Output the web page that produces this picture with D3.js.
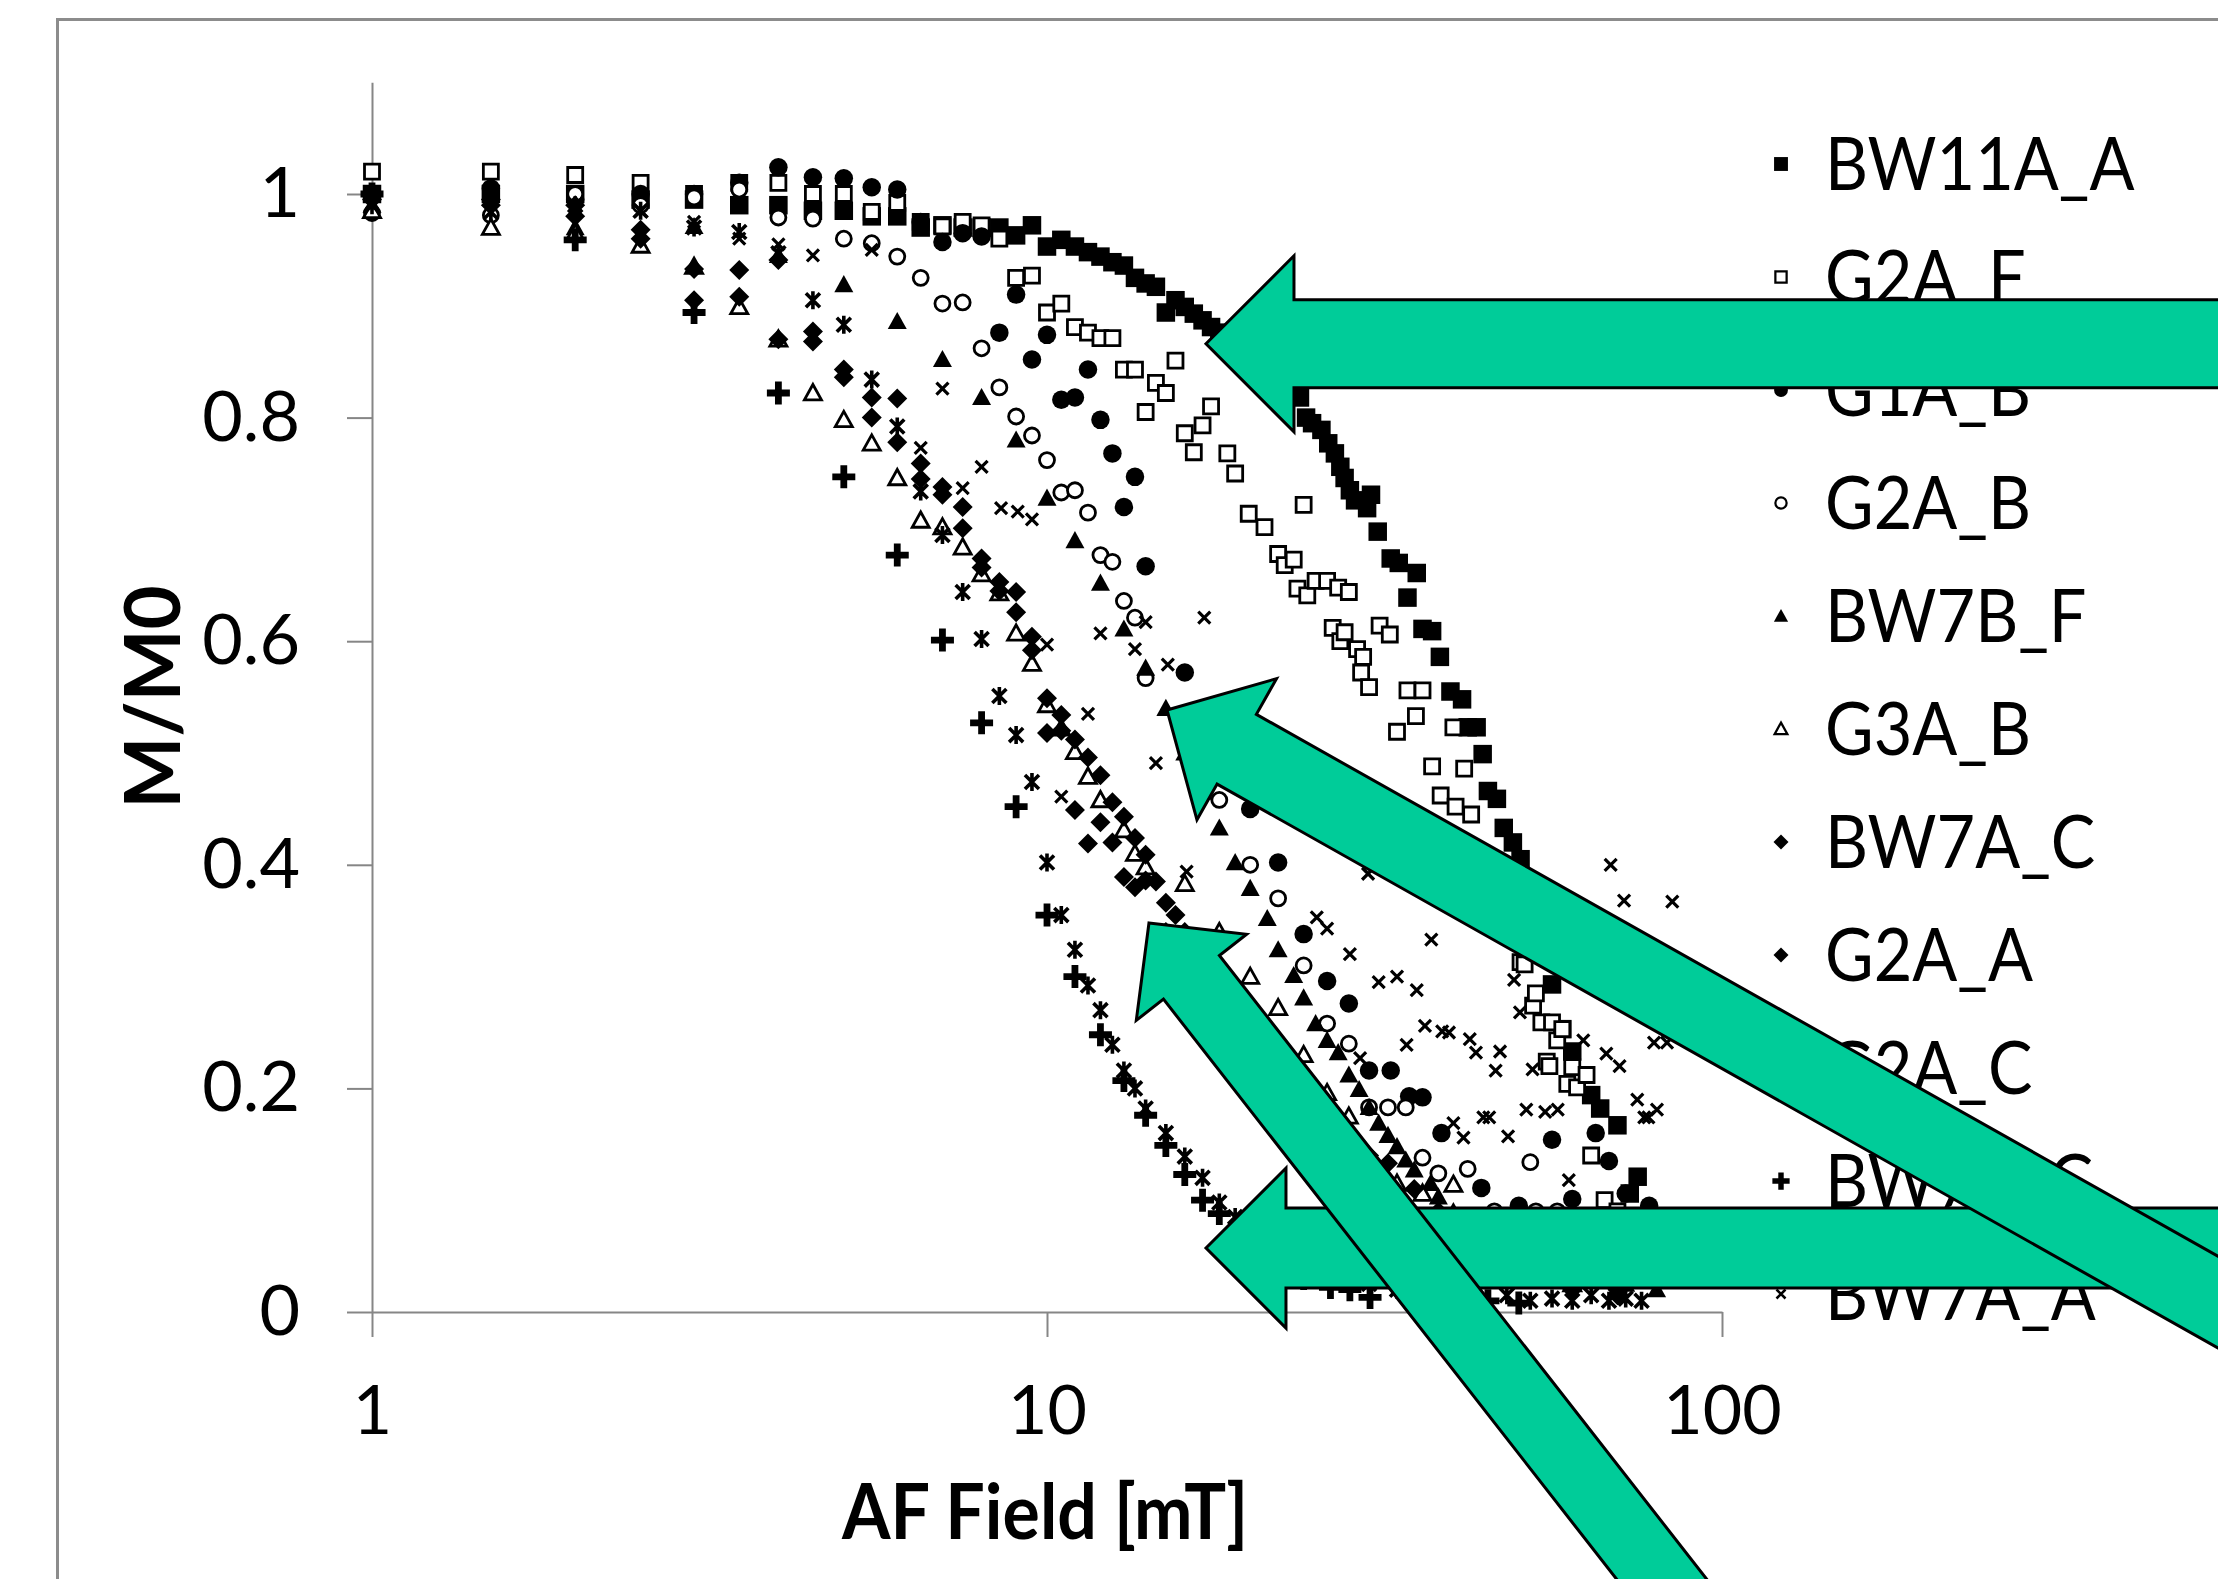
<!DOCTYPE html>
<html>
<head>
<meta charset="utf-8">
<script src="https://cdn.jsdelivr.net/npm/d3@7"></script>
<style>
  html, body { margin: 0; padding: 0; background: #ffffff; }
  svg { display: block; }
</style>
</head>
<body>
<svg id="chart" width="2218" height="1579"></svg>
<script>
// ---------------- DATA (AF field [mT], M/M0) ----------------
const bw11aA = [[1,1.0],[1.5,1.0],[2,1.0],[2.5,0.995],[3,0.995],[3.5,0.99],[4,0.99],[4.5,0.985],[5,0.985],[5.5,0.98],[6,0.98],[6.5,0.97],[7,0.972],[7.5,0.97],[8,0.97],[8.5,0.97],[9,0.963],[9.5,0.972],[10,0.953],[10.5,0.959],[11,0.953],[11.5,0.948],[12,0.944],[12.5,0.939],[13,0.936],[13.5,0.925],[14,0.92],[14.5,0.917],[15,0.894],[15.5,0.905],[16,0.899],[16.5,0.893],[17,0.887],[17.5,0.881],[18,0.876],[19,0.868],[20,0.86],[21,0.85],[22,0.838],[23,0.826],[23.7,0.818],[24.2,0.80],[24.7,0.795],[25.5,0.789],[26.1,0.777],[26.7,0.768],[27.2,0.756],[27.6,0.746],[28.1,0.735],[28.6,0.726],[29.8,0.719],[30.2,0.731],[30.9,0.698],[32.3,0.674],[33.2,0.67],[34.2,0.639],[35.3,0.661],[36,0.611],[37.2,0.609],[38.2,0.586],[39.6,0.555],[41.2,0.548],[42,0.523],[43.3,0.523],[44.2,0.499],[45,0.466],[46.4,0.459],[47.5,0.433],[49,0.42],[50.3,0.405],[52,0.37],[54,0.33],[56,0.293],[58,0.253],[60,0.233],[64,0.194],[66,0.182],[70,0.167],[73,0.106],[75,0.121]];
const g2aF = [[1,1.02],[1.5,1.02],[2,1.017],[2.5,1.01],[3,1.0],[3.5,1.01],[4,1.01],[4.5,1.0],[5,1.0],[5.5,0.984],[6,0.992],[6.5,0.975],[7,0.971],[7.5,0.975],[8,0.972],[8.5,0.96],[9,0.925],[9.5,0.927],[10,0.894],[10.5,0.902],[11,0.881],[11.5,0.876],[12,0.871],[12.5,0.871],[13,0.843],[13.5,0.843],[14,0.805],[14.5,0.831],[15,0.822],[15.5,0.851],[16,0.786],[16.5,0.769],[17,0.793],[17.5,0.81],[18.5,0.768],[19,0.75],[19.9,0.714],[21,0.702],[22,0.678],[22.5,0.668],[23.2,0.673],[23.5,0.647],[24,0.722],[24.3,0.641],[25,0.654],[26,0.654],[26.5,0.612],[27,0.648],[27.2,0.6],[27.6,0.608],[28,0.644],[28.8,0.593],[29.2,0.572],[29.4,0.586],[30,0.559],[31.1,0.614],[32.2,0.606],[33,0.519],[34.2,0.556],[35.2,0.533],[36,0.556],[37.2,0.488],[38.3,0.462],[40,0.523],[40.3,0.452],[41.5,0.486],[42.5,0.445],[44,0.41],[46,0.38],[48.5,0.351],[50.3,0.313],[51,0.311],[52.5,0.274],[53,0.285],[54,0.259],[55,0.224],[55.5,0.22],[56,0.259],[57,0.243],[58,0.253],[59,0.204],[60,0.219],[61,0.201],[63,0.212],[64,0.14],[67,0.1],[70,0.09]];
const g1aB = [[1,1.0],[1.5,1.005],[2,0.995],[2.5,1.0],[3,1.0],[3.5,1.01],[4,1.024],[4.5,1.015],[5,1.014],[5.5,1.006],[6,1.004],[6.5,0.975],[7,0.957],[7.5,0.965],[8,0.962],[8.5,0.876],[9,0.91],[9.5,0.852],[10,0.874],[10.5,0.816],[11,0.818],[11.5,0.843],[12,0.798],[12.5,0.768],[13,0.72],[13.5,0.747],[14,0.667],[16,0.572],[18,0.5],[20,0.45],[22,0.402],[24,0.338],[26,0.296],[28,0.276],[30,0.216],[32.3,0.216],[34.4,0.193],[36,0.192],[38.4,0.16],[44,0.111],[50,0.095],[56,0.154],[60,0.101],[65,0.16],[68,0.135],[72,0.106],[78,0.095]];
const g2aB = [[1,0.983],[1.5,0.981],[2,1.0],[2.5,0.99],[3,0.997],[3.5,1.004],[4,0.979],[4.5,0.978],[5,0.96],[5.5,0.956],[6,0.944],[6.5,0.925],[7,0.902],[7.5,0.903],[8,0.862],[8.5,0.827],[9,0.801],[9.5,0.784],[10,0.762],[10.5,0.733],[11,0.735],[11.5,0.715],[12,0.677],[12.5,0.671],[13,0.636],[13.5,0.621],[14,0.567],[16,0.52],[18,0.458],[20,0.4],[22,0.37],[24,0.31],[26,0.258],[28,0.24],[30,0.183],[32,0.183],[34,0.183],[36,0.138],[38,0.124],[42,0.128],[46,0.09],[52,0.134],[53,0.09],[57,0.09],[62,0.085],[70,0.08]];
const bw7bF = [[1,0.99],[2,0.97],[3,0.971],[4,0.945],[5,0.919],[6,0.886],[7,0.852],[8,0.818],[9,0.78],[10,0.728],[11,0.69],[12,0.652],[13,0.611],[14,0.576],[15,0.54],[16,0.5],[17,0.465],[18,0.433],[19,0.402],[20,0.379],[21.2,0.352],[22,0.324],[23.2,0.301],[24,0.281],[25,0.258],[26,0.243],[27,0.232],[28,0.212],[29,0.199],[30,0.183],[31,0.169],[32,0.158],[33,0.148],[34,0.136],[35,0.127],[37,0.115],[38,0.103],[40,0.09],[43,0.07],[46,0.06],[50,0.05],[55,0.04],[60,0.03],[66,0.03],[72,0.025],[80,0.02]];
const g3aB = [[1,0.985],[1.5,0.97],[2,0.965],[2.5,0.954],[3,0.935],[3.5,0.899],[4,0.87],[4.5,0.822],[5,0.798],[5.5,0.777],[6,0.746],[6.5,0.708],[7,0.702],[7.5,0.684],[8,0.66],[8.5,0.643],[9,0.607],[9.5,0.58],[10,0.543],[10.5,0.522],[11,0.501],[11.5,0.479],[12,0.458],[13,0.431],[13.5,0.41],[14,0.398],[16,0.383],[18,0.34],[20,0.3],[22,0.272],[24,0.23],[26,0.196],[28,0.175],[31,0.121],[33,0.115],[36,0.106],[40,0.114],[44,0.06],[50,0.04],[60,0.025],[70,0.02]];
const bw7aC = [[1,1.0],[1.5,0.995],[2,0.99],[2.5,0.968],[3,0.933],[3.5,0.932],[4,0.941],[4.5,0.877],[5,0.843],[5.5,0.818],[6,0.817],[6.5,0.759],[7,0.738],[7.5,0.72],[8,0.674],[8.5,0.653],[9,0.626],[9.5,0.604],[10,0.549],[10.5,0.534],[11,0.512],[11.5,0.496],[12,0.48],[12.5,0.456],[13,0.443],[13.5,0.424],[14,0.409],[14.5,0.385],[15,0.366],[15.5,0.355],[16,0.34],[17,0.32],[18,0.3],[19,0.28],[20,0.26],[22,0.22],[24,0.19],[26,0.17],[28,0.15],[30,0.14],[32,0.133],[35,0.11],[38,0.09],[42,0.07],[46,0.05],[50,0.04],[55,0.03],[60,0.025],[70,0.02]];
const g2aA = [[1,0.995],[1.5,0.99],[2,0.98],[2.5,0.96],[3,0.905],[3.5,0.908],[4,0.87],[4.5,0.868],[5,0.836],[5.5,0.8],[6,0.778],[6.5,0.745],[7,0.731],[7.5,0.701],[8,0.666],[8.5,0.645],[9,0.644],[9.5,0.592],[10,0.518],[10.5,0.52],[11,0.449],[11.5,0.419],[12,0.438],[12.5,0.42],[13,0.389],[13.5,0.38],[14,0.386],[15,0.34],[16,0.3],[17,0.27],[18,0.24],[20,0.2],[22,0.16],[25,0.12],[28,0.09],[32,0.07],[36,0.05],[40,0.04],[50,0.03],[60,0.02],[70,0.015]];
const g2aC = [[1,0.99],[1.5,0.984],[2,0.99],[2.5,0.985],[3,0.97],[3.5,0.966],[4,0.947],[4.5,0.905],[5,0.883],[5.5,0.834],[6,0.792],[6.5,0.734],[7,0.695],[7.5,0.644],[8,0.602],[8.5,0.551],[9,0.516],[9.5,0.474],[10,0.402],[10.5,0.355],[11,0.324],[11.5,0.292],[12,0.27],[12.5,0.239],[13,0.216],[13.5,0.2],[14,0.182],[15,0.16],[16,0.139],[17,0.12],[18,0.098],[19,0.085],[20,0.07],[22,0.055],[24,0.045],[26,0.035],[28,0.03],[30,0.025],[33,0.02],[36,0.015],[40,0.012],[44,0.01],[48,0.015],[52,0.01],[56,0.012],[60,0.01],[64,0.015],[68,0.01],[72,0.012],[76,0.01]];
const bw7bC = [[1,1.0],[2,0.959],[3,0.894],[4,0.822],[5,0.747],[6,0.677],[7,0.601],[8,0.527],[9,0.452],[10,0.355],[11,0.3],[12,0.248],[13,0.207],[14,0.176],[15,0.149],[16,0.123],[17,0.1],[18,0.088],[20,0.06],[22,0.04],[24,0.03],[26.3,0.022],[28.1,0.02],[30.1,0.013],[35,0.012],[40,0.01],[45,0.01],[50,0.008]];
const bw7aA = [[1,1.0],[1.5,0.995],[2,0.99],[2.5,0.985],[3,0.975],[3.5,0.96],[4,0.955],[4.5,0.945],[5.5,0.95],[6.5,0.773],[7,0.826],[7.5,0.737],[8,0.756],[8.55,0.719],[9.05,0.716],[9.5,0.709],[10,0.597],[10.5,0.461],[11.5,0.535],[12,0.607],[13.5,0.593],[14,0.617],[14.5,0.491],[15.1,0.579],[16.1,0.394],[17.1,0.621],[25.1,0.353],[26,0.343],[28.1,0.32],[29.1,0.227],[29.9,0.392],[31,0.295],[33,0.3],[34.1,0.239],[35.3,0.288],[36.3,0.256],[37.1,0.333],[38.5,0.251],[39.4,0.25],[40,0.169],[41.4,0.156],[42.3,0.244],[43.2,0.232],[44.3,0.174],[45.2,0.174],[46.2,0.216],[46.9,0.233],[48.2,0.157],[49.2,0.297],[50.2,0.268],[51.3,0.181],[52.4,0.217],[54.7,0.179],[57.1,0.181],[59.3,0.118],[62.3,0.243],[67.4,0.231],[68.4,0.4],[70.5,0.22],[71.6,0.368],[74.9,0.19],[76.7,0.174],[77.8,0.174],[79.3,0.241],[80.1,0.181],[82.9,0.241],[84.4,0.367]];

const seriesNames = ["BW11A_A","G2A_F","G1A_B","G2A_B","BW7B_F","G3A_B","BW7A_C","G2A_A","G2A_C","BW7B_C","BW7A_A"];
const seriesData  = [bw11aA, g2aF, g1aB, g2aB, bw7bF, g3aB, bw7aC, g2aA, g2aC, bw7bC, bw7aA];
const markerTypes = ["square","openSquare","circle","openCircle","triangle","openTriangle","diamond","diamond","asterisk","plus","cross"];

const xTickValues = [1, 10, 100];
const xTickLabels = ["1", "10", "100"];
const yTickValues = [0, 0.2, 0.4, 0.6, 0.8, 1];
const yTickLabels = ["0", "0.2", "0.4", "0.6", "0.8", "1"];
const xTitle = "AF Field [mT]";
const yTitle = "M/M0";

// Annotation arrows (tip in data coords, tail direction in degrees)
const arrowTips = [[17.2, 0.866], [17.2, 0.0572], [15.06, 0.5385], [14.16, 0.348]];
const arrowAngles = [0, 0, 29.4, 52];

// ---------------- DRAW ----------------
const svg = d3.select("#chart");
const W = 2218, H = 1579;
svg.append("rect").attr("width", W).attr("height", H).attr("fill", "#ffffff");
svg.append("rect").attr("x", 57.5).attr("y", 19.5).attr("width", 2400).attr("height", 2000)
   .attr("fill", "none").attr("stroke", "#8c8c8c").attr("stroke-width", 3);

const x = d3.scaleLog().domain([1, 100]).range([372, 1722]);
const y = d3.scaleLinear().domain([0, 1.1]).range([1312, 1312 - 1.1 * 1118]);

const FONT = "Lato, 'Open Sans', sans-serif";
const axisColor = "#868686";

// Y axis
const yAxis = svg.append("g").attr("transform", `translate(${x(1)},0)`)
  .call(d3.axisLeft(y).tickValues(yTickValues).tickSize(25).tickSizeOuter(0).tickPadding(47)
        .tickFormat((d, i) => yTickLabels[i]));
yAxis.select(".domain").attr("stroke", axisColor).attr("stroke-width", 2);
yAxis.selectAll(".tick line").attr("stroke", axisColor).attr("stroke-width", 2);
yAxis.selectAll(".tick text").attr("font-family", FONT).attr("font-size", 70).attr("fill", "#000");

// X axis
const xAxis = svg.append("g").attr("transform", `translate(0,${y(0)})`)
  .call(d3.axisBottom(x).tickValues(xTickValues).tickSize(25).tickSizeOuter(0).tickPadding(49)
        .tickFormat((d, i) => xTickLabels[i]));
xAxis.select(".domain").attr("stroke", axisColor).attr("stroke-width", 2);
xAxis.selectAll(".tick line").attr("stroke", axisColor).attr("stroke-width", 2);
xAxis.selectAll(".tick text").attr("font-family", FONT).attr("font-size", 68).attr("fill", "#000");

// Titles
svg.append("text").attr("transform", "translate(1045,1539) scale(0.92,1)")
  .attr("text-anchor", "middle").attr("font-family", FONT).attr("font-weight", "bold")
  .attr("font-size", 76).attr("fill", "#000").text(xTitle);
svg.append("text").attr("transform", "translate(180,697) rotate(-90)")
  .attr("text-anchor", "middle").attr("font-family", FONT).attr("font-weight", "bold")
  .attr("font-size", 76).attr("fill", "#000").text(yTitle);

// Markers
function markerPath(type, s) {
  const h = s / 2;
  switch (type) {
    case "square": case "openSquare": return `M${-h},${-h}H${h}V${h}H${-h}Z`;
    case "circle": case "openCircle": return `M${h},0A${h},${h} 0 1,1 ${-h},0A${h},${h} 0 1,1 ${h},0Z`;
    case "triangle": case "openTriangle": return `M0,${-h}L${h},${h * 0.8}L${-h},${h * 0.8}Z`;
    case "diamond": return `M0,${-h}L${h},0L0,${h}L${-h},0Z`;
    case "asterisk": { const a = h * 0.78; return `M${-a},${-a}L${a},${a}M${-a},${a}L${a},${-a}M0,${-h}V${h}`; }
    case "plus": return `M${-h},0H${h}M0,${-h}V${h}`;
    case "cross": return `M${-h},${-h}L${h},${h}M${-h},${h}L${h},${-h}`;
  }
}
const markerStyle = {
  square:       { size: 18.5, fill: "#000", stroke: "none", sw: 0 },
  openSquare:   { size: 15, fill: "#fff", stroke: "#000", sw: 2.8 },
  circle:       { size: 18.5, fill: "#000", stroke: "none", sw: 0 },
  openCircle:   { size: 15, fill: "#fff", stroke: "#000", sw: 2.8 },
  triangle:     { size: 19, fill: "#000", stroke: "none", sw: 0 },
  openTriangle: { size: 17, fill: "#fff", stroke: "#000", sw: 2.8 },
  diamond:      { size: 20, fill: "#000", stroke: "none", sw: 0 },
  asterisk:     { size: 18, fill: "none", stroke: "#000", sw: 3.6 },
  plus:         { size: 23, fill: "none", stroke: "#000", sw: 6.8 },
  cross:        { size: 12, fill: "none", stroke: "#000", sw: 3.2 }
};

const plot = svg.append("g");
seriesData.forEach((data, si) => {
  const type = markerTypes[si];
  const st = markerStyle[type];
  plot.append("g").attr("class", "series-" + seriesNames[si])
    .selectAll("path").data(data).join("path")
    .attr("transform", d => `translate(${x(d[0])},${y(d[1])})`)
    .attr("d", markerPath(type, st.size))
    .attr("fill", st.fill).attr("stroke", st.stroke).attr("stroke-width", st.sw);
});

// Legend
const legend = svg.append("g");
seriesNames.forEach((name, i) => {
  const cy = 164 + i * 113;
  const type = markerTypes[i];
  const st = markerStyle[type];
  legend.append("path").attr("transform", `translate(1781,${cy})`)
    .attr("d", markerPath(type, st.size * 0.75))
    .attr("fill", st.fill).attr("stroke", st.stroke).attr("stroke-width", st.sw * 0.8);
  legend.append("text").attr("transform", `translate(1825,${cy + 26}) scale(0.9,1)`)
    .attr("font-family", FONT).attr("font-size", 74).attr("fill", "#000").text(name);
});

// Arrows (annotation)
const arrowGeom = [
  { head: 88, headW: 176, shaftW: 88 },
  { head: 80, headW: 160, shaftW: 80 },
  { head: 80, headW: 162, shaftW: 80 },
  { head: 69, headW: 140, shaftW: 71 }
];
const arrows = svg.append("g");
arrowTips.forEach((tip, i) => {
  const g = arrowGeom[i];
  const L = 1800;
  const pts = [[0, 0], [g.head, -g.headW / 2], [g.head, -g.shaftW / 2], [L, -g.shaftW / 2],
               [L, g.shaftW / 2], [g.head, g.shaftW / 2], [g.head, g.headW / 2]];
  arrows.append("polygon")
    .attr("transform", `translate(${x(tip[0])},${y(tip[1])}) rotate(${arrowAngles[i]})`)
    .attr("points", pts.map(p => p.join(",")).join(" "))
    .attr("fill", "#00CC99").attr("stroke", "#000").attr("stroke-width", 3)
    .attr("stroke-linejoin", "miter");
});
</script>
</body>
</html>
